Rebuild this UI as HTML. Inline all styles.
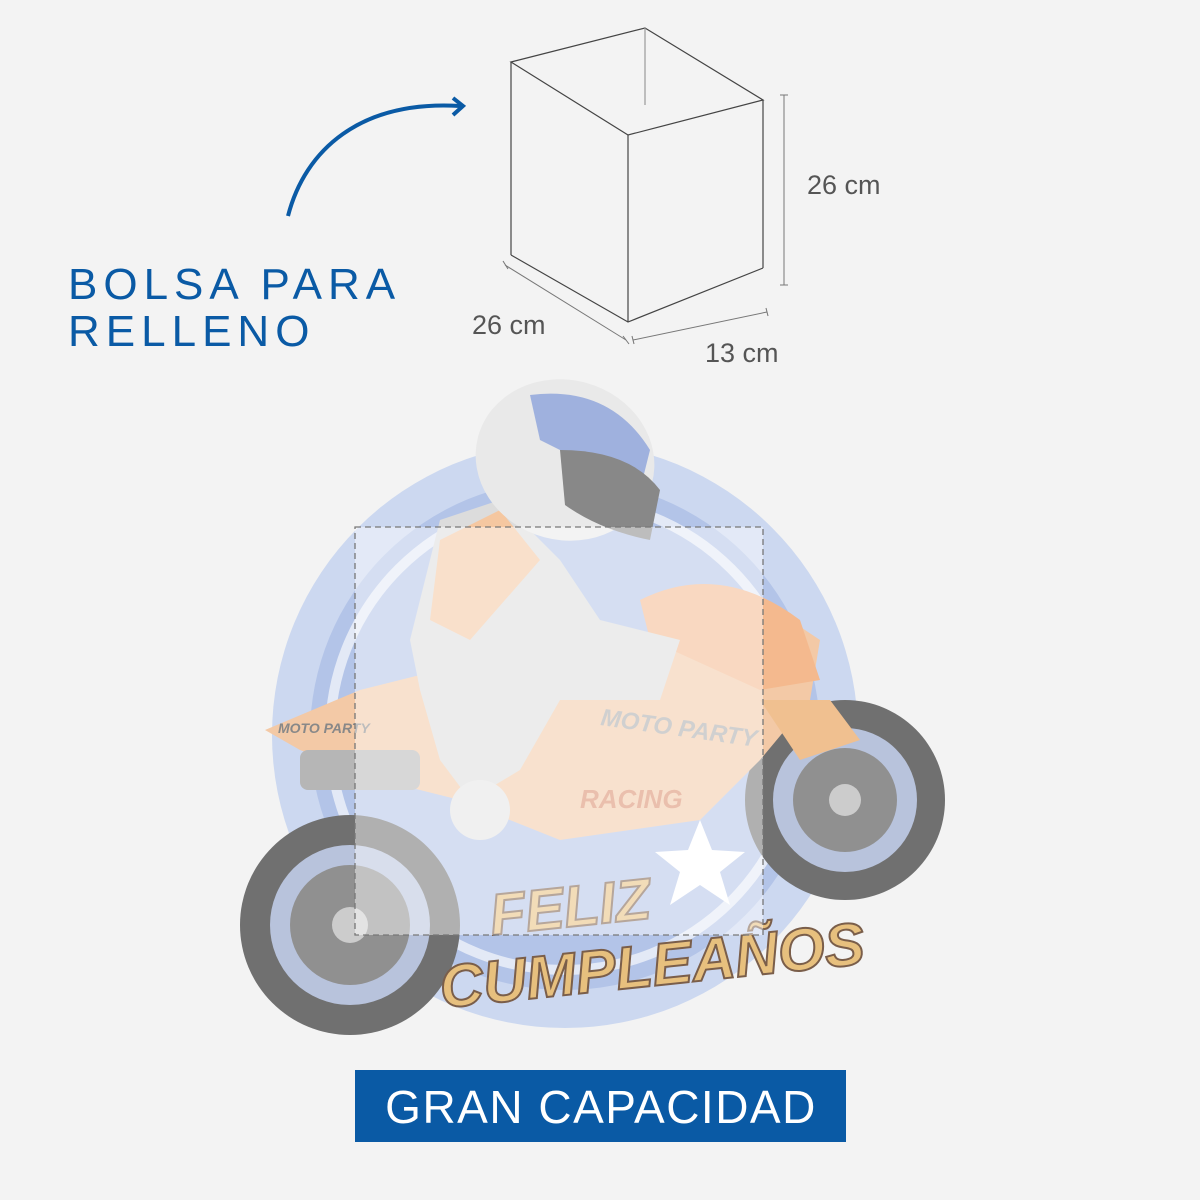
<!DOCTYPE html>
<html><head><meta charset="utf-8"><style>
html,body{margin:0;padding:0;background:#f3f3f3;}
svg{display:block}
</style></head><body>
<svg width="1200" height="1200" viewBox="0 0 1200 1200" xmlns="http://www.w3.org/2000/svg">
<rect width="1200" height="1200" fill="#f3f3f3"/>
<g fill="none" stroke="#444" stroke-width="1.2">
<polygon points="511,62 645,28 763,100 628,135"/>
<line x1="511" y1="62" x2="511" y2="255"/>
<line x1="628" y1="135" x2="628" y2="322"/>
<line x1="763" y1="100" x2="763" y2="268"/>
<polyline points="511,255 628,322 763,268"/>
<line x1="645" y1="28" x2="645" y2="105" stroke="#999"/>
</g>
<g fill="none" stroke="#777" stroke-width="1">
<line x1="784" y1="95" x2="784" y2="285"/><line x1="780" y1="95" x2="788" y2="95"/><line x1="780" y1="285" x2="788" y2="285"/>
<line x1="505" y1="265" x2="626" y2="340"/><line x1="503" y1="261" x2="508" y2="269"/><line x1="623" y1="336" x2="629" y2="344"/>
<line x1="633" y1="340" x2="767" y2="312"/><line x1="632" y1="336" x2="634" y2="344"/><line x1="766" y1="308" x2="768" y2="316"/>
</g>
<g font-family="Liberation Sans, sans-serif" font-size="27" fill="#555">
<text x="807" y="194">26 cm</text>
<text x="472" y="334">26 cm</text>
<text x="705" y="362">13 cm</text>
</g>
<path d="M288,216 C305,150 360,100 460,106" fill="none" stroke="#0a5aa5" stroke-width="4"/>
<polyline points="453,98 463,106 453,115" fill="none" stroke="#0a5aa5" stroke-width="4"/>
<g font-family="Liberation Sans, sans-serif" font-size="44" fill="#0a5aa5" letter-spacing="6">
<text x="68" y="299">BOLSA PARA</text>
<text x="68" y="346">RELLENO</text>
</g>
<circle cx="565" cy="735" r="293" fill="#ccd8f0"/>
<circle cx="565" cy="735" r="255" fill="#b3c4e8"/>
<circle cx="565" cy="735" r="235" fill="none" stroke="#e3e9f6" stroke-width="10"/>
<circle cx="350" cy="925" r="110" fill="#707070"/>
<circle cx="350" cy="925" r="80" fill="#b8c3dc"/>
<circle cx="350" cy="925" r="60" fill="#909090"/>
<circle cx="350" cy="925" r="18" fill="#ccc"/>
<circle cx="845" cy="800" r="100" fill="#707070"/>
<circle cx="845" cy="800" r="72" fill="#b8c3dc"/>
<circle cx="845" cy="800" r="52" fill="#909090"/>
<circle cx="845" cy="800" r="16" fill="#ccc"/>
<path d="M265,730 L360,690 L520,650 L640,640 L760,600 L820,640 L810,700 L760,760 L700,820 L560,840 L460,800 L380,780 L300,750 Z" fill="#f3c9a6"/>
<path d="M640,600 Q720,560 800,620 L820,680 L760,690 L650,640 Z" fill="#f4b98e"/>
<path d="M760,700 L830,700 L860,740 L800,760 Z" fill="#f0c090"/>
<rect x="300" y="750" width="120" height="40" rx="8" fill="#b6b6b6"/>
<path d="M410,640 L440,520 L500,500 L560,560 L600,620 L680,640 L660,700 L560,700 L520,770 L470,800 L440,760 L420,690 Z" fill="#dcdcdc"/>
<path d="M440,540 L500,510 L540,560 L470,640 L430,620 Z" fill="#f5c7a0"/>
<ellipse cx="565" cy="460" rx="90" ry="80" fill="#e9e9e9" transform="rotate(15 565 460)"/>
<path d="M530,395 Q610,385 650,450 L640,490 Q580,460 540,440 Z" fill="#9fb1de"/>
<path d="M560,450 Q630,450 660,490 L650,540 Q600,530 565,505 Z" fill="#888"/>
<circle cx="480" cy="810" r="30" fill="#e4e4e4"/>
<g font-family="Liberation Sans, sans-serif" font-weight="bold" font-style="italic">
<text x="580" y="808" font-size="26" fill="#d98a6a">RACING</text>
<text x="278" y="733" font-size="14" fill="#888">MOTO PARTY</text>
<text x="600" y="725" font-size="24" fill="#aaa" transform="rotate(8 600 725)">MOTO PARTY</text>
<text x="492" y="935" font-size="58" fill="#e7c07e" stroke="#7a5e4a" stroke-width="2" transform="rotate(-6 492 935)">FELIZ</text>
<text x="442" y="1008" font-size="60" fill="#e7c07e" stroke="#7a5e4a" stroke-width="2" transform="rotate(-6 442 1008)">CUMPLEAÑOS</text>
</g>
<polygon points="700,820 712,850 745,852 720,872 730,905 700,885 670,905 680,872 655,852 688,850" fill="#fff"/>
<rect x="355" y="527" width="408" height="408" fill="#ffffff" fill-opacity="0.45" stroke="#777" stroke-width="1.3" stroke-dasharray="6,4"/>
<rect x="355" y="1070" width="491" height="72" fill="#0a5aa5"/>
<text x="601" y="1123" text-anchor="middle" font-family="Liberation Sans, sans-serif" font-size="46" fill="#fff" letter-spacing="1.5">GRAN CAPACIDAD</text>
</svg>
</body></html>
